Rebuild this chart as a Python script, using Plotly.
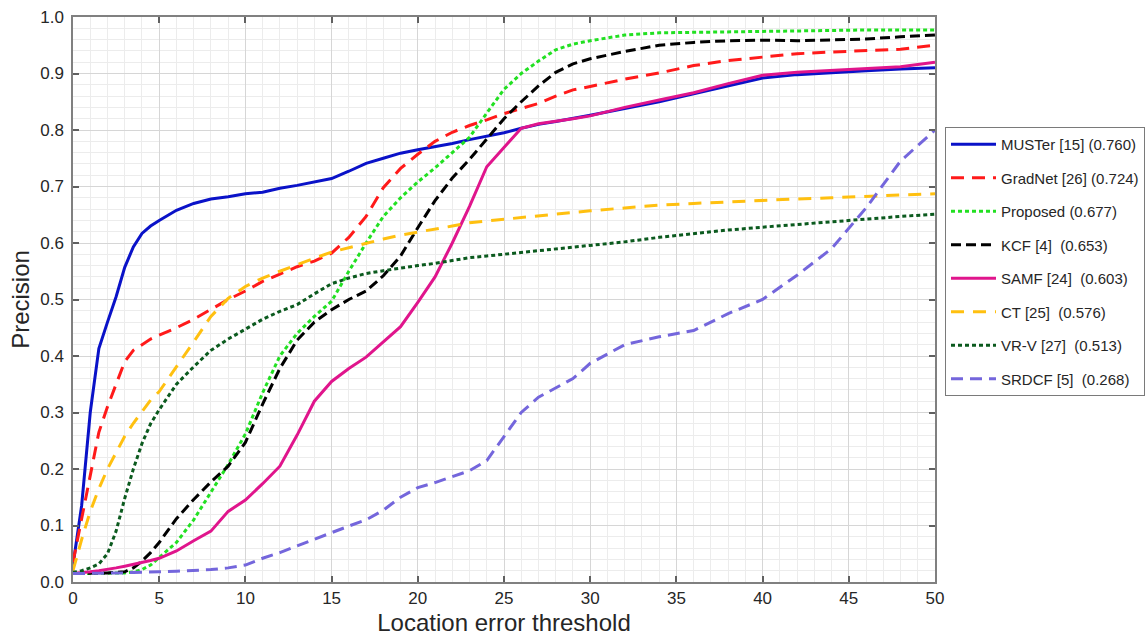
import plotly.graph_objects as go

thresholds = [0, 0.5, 1, 1.5, 2, 2.5, 3, 3.5, 4, 4.5, 5, 6, 7, 8, 9, 10, 11, 12, 13, 14, 15,
              16, 17, 18, 19, 20, 21, 22, 23, 24, 25, 26, 27, 28, 29, 30, 32, 34, 36, 38,
              40, 42, 44, 46, 48, 50]

muster = [0.03, 0.135, 0.30, 0.413, 0.46, 0.505, 0.557, 0.593, 0.617, 0.63, 0.64, 0.658, 0.67,
          0.678, 0.682, 0.687, 0.69, 0.697, 0.702, 0.708, 0.714, 0.727, 0.741, 0.75, 0.759,
          0.765, 0.77, 0.776, 0.783, 0.789, 0.795, 0.803, 0.81, 0.815, 0.82, 0.826, 0.838,
          0.85, 0.864, 0.878, 0.892, 0.898, 0.902, 0.905, 0.908, 0.91]
gradnet = [0.035, 0.11, 0.19, 0.265, 0.31, 0.35, 0.39, 0.41, 0.42, 0.43, 0.437, 0.45, 0.465,
           0.482, 0.5, 0.515, 0.532, 0.545, 0.558, 0.568, 0.582, 0.61, 0.647, 0.698, 0.732,
           0.757, 0.78, 0.796, 0.808, 0.818, 0.829, 0.838, 0.847, 0.86, 0.871, 0.877, 0.89,
           0.901, 0.914, 0.923, 0.929, 0.935, 0.938, 0.941, 0.943, 0.95]
proposed = [0.015, 0.015, 0.015, 0.015, 0.016, 0.016, 0.016, 0.018, 0.022, 0.03, 0.043, 0.07,
            0.11, 0.16, 0.208, 0.262, 0.335, 0.40, 0.44, 0.47, 0.497, 0.55, 0.60, 0.647, 0.68,
            0.708, 0.733, 0.76, 0.787, 0.83, 0.872, 0.90, 0.922, 0.942, 0.952, 0.958, 0.968,
            0.972, 0.973, 0.974, 0.975, 0.976, 0.976, 0.977, 0.977, 0.977]
kcf = [0.015, 0.015, 0.015, 0.016, 0.016, 0.017, 0.018, 0.025, 0.037, 0.052, 0.07, 0.112,
       0.146, 0.177, 0.205, 0.247, 0.315, 0.378, 0.428, 0.46, 0.482, 0.50, 0.515, 0.542, 0.577,
       0.627, 0.675, 0.715, 0.748, 0.784, 0.82, 0.85, 0.878, 0.902, 0.917, 0.926, 0.939, 0.95,
       0.955, 0.958, 0.959, 0.958, 0.959, 0.961, 0.965, 0.968]
samf = [0.015, 0.016, 0.018, 0.02, 0.022, 0.025, 0.028, 0.031, 0.035, 0.038, 0.042, 0.055,
        0.073, 0.09, 0.125, 0.145, 0.174, 0.205, 0.26, 0.32, 0.355, 0.378, 0.398, 0.425, 0.452,
        0.495, 0.54, 0.60, 0.665, 0.735, 0.77, 0.803, 0.811, 0.815, 0.82, 0.825, 0.84, 0.853,
        0.866, 0.882, 0.897, 0.902, 0.905, 0.908, 0.912, 0.92]
ct = [0.02, 0.075, 0.125, 0.165, 0.20, 0.23, 0.258, 0.281, 0.302, 0.322, 0.337, 0.38, 0.425,
      0.47, 0.502, 0.523, 0.538, 0.55, 0.562, 0.573, 0.584, 0.592, 0.60, 0.607, 0.614, 0.619,
      0.624, 0.63, 0.636, 0.639, 0.642, 0.646, 0.649, 0.652, 0.655, 0.657, 0.662, 0.667, 0.67,
      0.673, 0.676, 0.678, 0.68, 0.683, 0.685, 0.687]
vrv = [0.017, 0.02, 0.025, 0.032, 0.05, 0.09, 0.148, 0.20, 0.245, 0.28, 0.305, 0.35, 0.381,
       0.41, 0.43, 0.448, 0.465, 0.479, 0.491, 0.51, 0.528, 0.538, 0.546, 0.551, 0.556, 0.56,
       0.564, 0.569, 0.574, 0.577, 0.58, 0.583, 0.586, 0.589, 0.592, 0.595, 0.602, 0.61, 0.617,
       0.623, 0.628, 0.633, 0.638, 0.643, 0.647, 0.651]
srdcf = [0.015, 0.015, 0.015, 0.015, 0.016, 0.016, 0.016, 0.017, 0.017, 0.017, 0.018, 0.019,
         0.02, 0.022, 0.025, 0.03, 0.042, 0.052, 0.064, 0.076, 0.088, 0.099, 0.11, 0.127, 0.15,
         0.167, 0.176, 0.186, 0.197, 0.215, 0.258, 0.30, 0.327, 0.343, 0.36, 0.387, 0.42, 0.434,
         0.445, 0.475, 0.50, 0.543, 0.59, 0.662, 0.745, 0.80]

names = ["MUSTer [15] (0.760)", "GradNet [26] (0.724)", "Proposed (0.677)",
         "KCF [4]\u00a0 (0.653)", "SAMF [24]\u00a0 (0.603)", "CT [25]\u00a0 (0.576)",
         "VR-V [27]\u00a0 (0.513)", "SRDCF [5]\u00a0 (0.268)"]
series = [muster, gradnet, proposed, kcf, samf, ct, vrv, srdcf]
colors = ["#0a12c8", "#ff1a1a", "#22e022", "#000000", "#e0158c", "#ffc010", "#0b5a1e", "#7466dc"]
dashes = ["solid", "13px,8px", "4px,3px", "10px,5px", "solid", "13px,9px", "4px,3px", "12px,7px"]

fig = go.Figure()
for i, (nm, ys, c, d) in enumerate(zip(names, series, colors, dashes)):
    fig.add_trace(go.Scatter(x=thresholds, y=ys, mode="lines", name=nm,
                             legendgroup=f"g{i}",
                             line=dict(color=c, width=3, dash=d)))

axis_common = dict(
    showline=True, linecolor="#808080", linewidth=1.5, mirror="ticks",
    ticks="inside", ticklen=6, tickcolor="#606060", tickwidth=1.5,
    showgrid=True, gridcolor="#d6d6d6", gridwidth=1,
    zeroline=False,
    tickfont=dict(family="Liberation Sans, Arial, sans-serif", size=17, color="#262626"),
    automargin=False,
)

fig.update_xaxes(range=[0, 50], tick0=0, dtick=5,
                 minor=dict(dtick=1, showgrid=True, gridcolor="#ececec", gridwidth=1, ticks=""),
                 title=dict(text="Location error threshold", standoff=9,
                            font=dict(family="Liberation Sans, Arial, sans-serif", size=24,
                                      color="#262626")),
                 **axis_common)
fig.update_yaxes(range=[0, 1], tick0=0, dtick=0.1, tickformat=".1f",
                 ticklabelstandoff=4,
                 minor=dict(dtick=0.02, showgrid=True, gridcolor="#ececec", gridwidth=1, ticks=""),
                 title=dict(text="Precision", standoff=4,
                            font=dict(family="Liberation Sans, Arial, sans-serif", size=24,
                                      color="#262626")),
                 **axis_common)

fig.update_layout(
    width=1148, height=636,
    margin=dict(l=73, r=213, t=17, b=54, autoexpand=False),
    paper_bgcolor="white", plot_bgcolor="white",
    showlegend=True,
    legend=dict(x=1.0116, xanchor="left", y=0.8053, yanchor="top",
                bgcolor="white", bordercolor="#7a7a7a", borderwidth=1,
                font=dict(family="Liberation Sans, Arial, sans-serif", size=15, color="#262626"),
                itemwidth=45, tracegroupgap=11, traceorder="grouped"),
)

fig.write_html("out.html")
